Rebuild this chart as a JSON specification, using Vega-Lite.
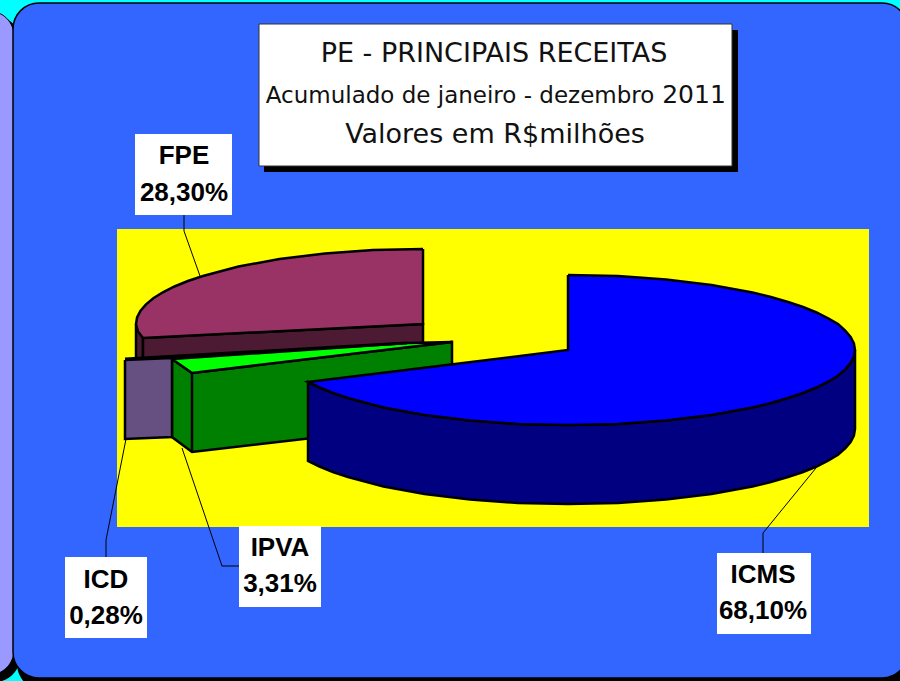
{"$schema":"https://vega.github.io/schema/vega-lite/v6.json","width":900,"height":681,"padding":0,"autosize":"none","background":"#00ffff","view":{"stroke":null},
"config":{"style":{"cell":{"stroke":null}}},
"datasets":{
"boxes":[
{"part":"sideShadow","x":-100,"x2":20,"y":16,"y2":682},
{"part":"side","x":-100,"x2":14,"y":11,"y2":675},
{"part":"mainShadow","x":17,"x2":912,"y":8,"y2":690},
{"part":"main","x":13,"x2":908,"y":3,"y2":678},
{"part":"titleShadow","x":264,"x2":738,"y":30,"y2":172},
{"part":"title","x":259,"x2":732,"y":24,"y2":166},
{"part":"plot","x":117,"x2":869,"y":229,"y2":527},
{"part":"label","x":135,"x2":232,"y":134,"y2":215},
{"part":"label","x":65,"x2":147,"y":557,"y2":638},
{"part":"label","x":239,"x2":321,"y":526,"y2":607},
{"part":"label","x":717,"x2":811,"y":553,"y2":634}
],
"outlines":[
{"part":"leaderFPE","i":0,"x":184,"y":215},{"part":"leaderFPE","i":1,"x":184,"y":231},{"part":"leaderFPE","i":2,"x":200,"y":276},
{"part":"leaderICD","i":0,"x":106,"y":557},{"part":"leaderICD","i":1,"x":106,"y":540},{"part":"leaderICD","i":2,"x":126,"y":439},
{"part":"leaderIPVA","i":0,"x":239,"y":566},{"part":"leaderIPVA","i":1,"x":222,"y":566},{"part":"leaderIPVA","i":2,"x":182,"y":448},
{"part":"leaderICMS","i":0,"x":763,"y":553},{"part":"leaderICMS","i":1,"x":763,"y":533},{"part":"leaderICMS","i":2,"x":816,"y":468},

{"part":"fpeSide","i":0,"x":136,"y":324},{"part":"fpeSide","i":1,"x":143,"y":338},{"part":"fpeSide","i":2,"x":143,"y":360},{"part":"fpeSide","i":3,"x":136,"y":360},{"part":"fpeSide","i":4,"x":136,"y":324},
{"part":"fpeWall","i":0,"x":143,"y":338},{"part":"fpeWall","i":1,"x":423,"y":324},{"part":"fpeWall","i":2,"x":423,"y":346},{"part":"fpeWall","i":3,"x":143,"y":360},{"part":"fpeWall","i":4,"x":143,"y":338},
{"part":"fpeTop","i":0,"x":423,"y":249},{"part":"fpeTop","i":1,"x":373,"y":250},{"part":"fpeTop","i":2,"x":325,"y":253.5},{"part":"fpeTop","i":3,"x":279.5,"y":259},{"part":"fpeTop","i":4,"x":238.5,"y":266.5},{"part":"fpeTop","i":5,"x":203,"y":276},{"part":"fpeTop","i":5.5,"x":187.9,"y":281},{"part":"fpeTop","i":6,"x":174.5,"y":286.5},{"part":"fpeTop","i":6.5,"x":162.9,"y":292.3},{"part":"fpeTop","i":7,"x":153.3,"y":298.3},{"part":"fpeTop","i":7.5,"x":145.8,"y":304.6},{"part":"fpeTop","i":8,"x":140.4,"y":311},{"part":"fpeTop","i":8.5,"x":137.1,"y":317.5},{"part":"fpeTop","i":9,"x":136,"y":324},{"part":"fpeTop","i":9.5,"x":138,"y":331.5},{"part":"fpeTop","i":10,"x":143,"y":338},{"part":"fpeTop","i":11,"x":423,"y":324},{"part":"fpeTop","i":12,"x":423,"y":249},

{"part":"ipvaTop","i":0,"x":172,"y":359},{"part":"ipvaTop","i":1,"x":407,"y":343},{"part":"ipvaTop","i":2,"x":452,"y":342},{"part":"ipvaTop","i":3,"x":192,"y":373},{"part":"ipvaTop","i":4,"x":172,"y":359},
{"part":"ipvaWall","i":0,"x":172,"y":359},{"part":"ipvaWall","i":1,"x":192,"y":373},{"part":"ipvaWall","i":2,"x":452,"y":342},{"part":"ipvaWall","i":3,"x":452,"y":422},{"part":"ipvaWall","i":4,"x":192,"y":452},{"part":"ipvaWall","i":5,"x":172,"y":437},{"part":"ipvaWall","i":6,"x":172,"y":359},
{"part":"ipvaEdge","i":0,"x":192,"y":373},{"part":"ipvaEdge","i":1,"x":192,"y":452},
{"part":"icd","i":0,"x":125,"y":360},{"part":"icd","i":1,"x":172,"y":358},{"part":"icd","i":2,"x":172,"y":437},{"part":"icd","i":3,"x":125,"y":439},{"part":"icd","i":4,"x":125,"y":360},
{"part":"backEdge","i":0,"x":125,"y":359},{"part":"backEdge","i":1,"x":407,"y":343},

{"part":"icmsWall","i":0,"x":855,"y":350},{"part":"icmsWall","i":0.5,"x":853.9,"y":356.5},{"part":"icmsWall","i":1,"x":850.6,"y":363},{"part":"icmsWall","i":1.5,"x":845.2,"y":369.4},{"part":"icmsWall","i":2,"x":838,"y":375.7},{"part":"icmsWall","i":2.5,"x":828.1,"y":381.7},{"part":"icmsWall","i":3,"x":816.5,"y":387.5},{"part":"icmsWall","i":3.5,"x":803.1,"y":393},{"part":"icmsWall","i":4,"x":788,"y":398},{"part":"icmsWall","i":4.5,"x":770.9,"y":403},{"part":"icmsWall","i":5,"x":752.5,"y":407.5},{"part":"icmsWall","i":6,"x":711.5,"y":415},{"part":"icmsWall","i":7,"x":666,"y":420.5},{"part":"icmsWall","i":8,"x":618,"y":424},{"part":"icmsWall","i":9,"x":568,"y":425},{"part":"icmsWall","i":10,"x":518,"y":424},{"part":"icmsWall","i":11,"x":470,"y":420.5},{"part":"icmsWall","i":12,"x":424.5,"y":415},{"part":"icmsWall","i":13,"x":383.5,"y":407.5},{"part":"icmsWall","i":14,"x":348,"y":398},{"part":"icmsWall","i":14.5,"x":332.9,"y":393},{"part":"icmsWall","i":15,"x":319.5,"y":387.5},{"part":"icmsWall","i":16,"x":308,"y":382},
{"part":"icmsWall","i":17,"x":308,"y":461},{"part":"icmsWall","i":18,"x":319.5,"y":466.5},{"part":"icmsWall","i":18.5,"x":332.9,"y":472},{"part":"icmsWall","i":19,"x":348,"y":477},{"part":"icmsWall","i":20,"x":383.5,"y":486.5},{"part":"icmsWall","i":21,"x":424.5,"y":494},{"part":"icmsWall","i":22,"x":470,"y":499.5},{"part":"icmsWall","i":23,"x":518,"y":503},{"part":"icmsWall","i":24,"x":568,"y":504},{"part":"icmsWall","i":25,"x":618,"y":503},{"part":"icmsWall","i":26,"x":666,"y":499.5},{"part":"icmsWall","i":27,"x":711.5,"y":494},{"part":"icmsWall","i":28,"x":752.5,"y":486.5},{"part":"icmsWall","i":28.5,"x":770.9,"y":482},{"part":"icmsWall","i":29,"x":788,"y":477},{"part":"icmsWall","i":29.5,"x":803.1,"y":472},{"part":"icmsWall","i":30,"x":816.5,"y":466.5},{"part":"icmsWall","i":30.5,"x":828.1,"y":460.7},{"part":"icmsWall","i":31,"x":838,"y":454.7},{"part":"icmsWall","i":31.5,"x":845.2,"y":448.4},{"part":"icmsWall","i":32,"x":850.6,"y":442},{"part":"icmsWall","i":32.5,"x":853.9,"y":435.5},{"part":"icmsWall","i":33,"x":855,"y":429},{"part":"icmsWall","i":34,"x":855,"y":350},

{"part":"icmsTop","i":0,"x":568,"y":275},{"part":"icmsTop","i":1,"x":618,"y":276},{"part":"icmsTop","i":2,"x":666,"y":279.5},{"part":"icmsTop","i":3,"x":711.5,"y":285},{"part":"icmsTop","i":4,"x":752.5,"y":292.5},{"part":"icmsTop","i":4.5,"x":770.9,"y":297},{"part":"icmsTop","i":5,"x":788,"y":302},{"part":"icmsTop","i":5.5,"x":803.1,"y":307},{"part":"icmsTop","i":6,"x":816.5,"y":312.5},{"part":"icmsTop","i":6.5,"x":828.1,"y":318.3},{"part":"icmsTop","i":7,"x":838,"y":324},{"part":"icmsTop","i":7.5,"x":845.2,"y":330.6},{"part":"icmsTop","i":8,"x":850.6,"y":337},{"part":"icmsTop","i":8.5,"x":853.9,"y":343.5},{"part":"icmsTop","i":9,"x":855,"y":350},{"part":"icmsTop","i":9.5,"x":853.9,"y":356.5},{"part":"icmsTop","i":10,"x":850.6,"y":363},{"part":"icmsTop","i":10.5,"x":845.2,"y":369.4},{"part":"icmsTop","i":11,"x":838,"y":375.7},{"part":"icmsTop","i":11.5,"x":828.1,"y":381.7},{"part":"icmsTop","i":12,"x":816.5,"y":387.5},{"part":"icmsTop","i":12.5,"x":803.1,"y":393},{"part":"icmsTop","i":13,"x":788,"y":398},{"part":"icmsTop","i":13.5,"x":770.9,"y":403},{"part":"icmsTop","i":14,"x":752.5,"y":407.5},{"part":"icmsTop","i":15,"x":711.5,"y":415},{"part":"icmsTop","i":16,"x":666,"y":420.5},{"part":"icmsTop","i":17,"x":618,"y":424},{"part":"icmsTop","i":18,"x":568,"y":425},{"part":"icmsTop","i":19,"x":518,"y":424},{"part":"icmsTop","i":20,"x":470,"y":420.5},{"part":"icmsTop","i":21,"x":424.5,"y":415},{"part":"icmsTop","i":22,"x":383.5,"y":407.5},{"part":"icmsTop","i":23,"x":348,"y":398},{"part":"icmsTop","i":23.5,"x":332.9,"y":393},{"part":"icmsTop","i":24,"x":319.5,"y":387.5},{"part":"icmsTop","i":25,"x":308,"y":382},{"part":"icmsTop","i":26,"x":568,"y":350},{"part":"icmsTop","i":27,"x":568,"y":275}
],
"titles":[
{"line":"PE - PRINCIPAIS RECEITAS","size":"a","x":494,"y":54},
{"line":"Acumulado de janeiro - dezembro","size":"b","x":460,"y":96},
{"line":"2011","size":"c","x":694,"y":95},
{"line":"Valores em R$milhões","size":"a","x":495,"y":135}
],
"labels":[
{"text":"FPE","x":184,"y":156},{"text":"28,30%","x":184,"y":193},
{"text":"ICD","x":106,"y":580},{"text":"0,28%","x":106,"y":616},
{"text":"IPVA","x":280,"y":548},{"text":"3,31%","x":280,"y":584},
{"text":"ICMS","x":763,"y":575},{"text":"68,10%","x":763,"y":611}
]},
"data":{"name":"boxes"},
"encoding":{"x":{"field":"x","type":"quantitative","scale":{"domain":[0,900],"nice":false,"zero":false},"axis":null},"y":{"field":"y","type":"quantitative","scale":{"domain":[681,0],"nice":false,"zero":false},"axis":null}},
"layer":[
{"transform":[{"filter":"datum.part==='sideShadow'"}],"mark":{"type":"rect","fill":"#000000","cornerRadius":25},"encoding":{"x2":{"field":"x2"},"y2":{"field":"y2"}}},
{"transform":[{"filter":"datum.part==='side'"}],"mark":{"type":"rect","fill":"#9999ff","stroke":"#000000","strokeWidth":1,"cornerRadius":25},"encoding":{"x2":{"field":"x2"},"y2":{"field":"y2"}}},
{"transform":[{"filter":"datum.part==='mainShadow'"}],"mark":{"type":"rect","fill":"#000000","cornerRadius":26},"encoding":{"x2":{"field":"x2"},"y2":{"field":"y2"}}},
{"transform":[{"filter":"datum.part==='main'"}],"mark":{"type":"rect","fill":"#3366ff","stroke":"#000000","strokeWidth":1.5,"cornerRadius":26},"encoding":{"x2":{"field":"x2"},"y2":{"field":"y2"}}},
{"transform":[{"filter":"datum.part==='titleShadow'"}],"mark":{"type":"rect","fill":"#000000"},"encoding":{"x2":{"field":"x2"},"y2":{"field":"y2"}}},
{"transform":[{"filter":"datum.part==='title'"}],"mark":{"type":"rect","fill":"#ffffff","stroke":"#333333","strokeWidth":1},"encoding":{"x2":{"field":"x2"},"y2":{"field":"y2"}}},
{"transform":[{"filter":"datum.part==='plot'"}],"mark":{"type":"rect","fill":"#ffff00"},"encoding":{"x2":{"field":"x2"},"y2":{"field":"y2"}}},
{"data":{"name":"outlines"},"transform":[{"filter":"indexof(datum.part,'leader')===0"}],"mark":{"type":"line","stroke":"#000000","strokeWidth":1},"encoding":{"detail":{"field":"part"},"order":{"field":"i"}}},
{"data":{"name":"outlines"},"transform":[{"filter":"datum.part==='fpeSide'"}],"mark":{"type":"line","fill":"#4d1a33","stroke":"#000000","strokeWidth":2.5},"encoding":{"order":{"field":"i"}}},
{"data":{"name":"outlines"},"transform":[{"filter":"datum.part==='fpeWall'"}],"mark":{"type":"line","fill":"#4d1a33","stroke":"#000000","strokeWidth":2.5},"encoding":{"order":{"field":"i"}}},
{"data":{"name":"outlines"},"transform":[{"filter":"datum.part==='fpeTop'"}],"mark":{"type":"line","fill":"#993366","stroke":"#000000","strokeWidth":2.5},"encoding":{"order":{"field":"i"}}},
{"data":{"name":"outlines"},"transform":[{"filter":"datum.part==='ipvaWall'"}],"mark":{"type":"line","fill":"#008000","stroke":"#000000","strokeWidth":2.5},"encoding":{"order":{"field":"i"}}},
{"data":{"name":"outlines"},"transform":[{"filter":"datum.part==='ipvaTop'"}],"mark":{"type":"line","fill":"#00ff00","stroke":"#000000","strokeWidth":2.5},"encoding":{"order":{"field":"i"}}},
{"data":{"name":"outlines"},"transform":[{"filter":"datum.part==='ipvaEdge'"}],"mark":{"type":"line","stroke":"#000000","strokeWidth":2.5},"encoding":{"order":{"field":"i"}}},
{"data":{"name":"outlines"},"transform":[{"filter":"datum.part==='icd'"}],"mark":{"type":"line","fill":"#665082","stroke":"#000000","strokeWidth":2.5},"encoding":{"order":{"field":"i"}}},
{"data":{"name":"outlines"},"transform":[{"filter":"datum.part==='backEdge'"}],"mark":{"type":"line","stroke":"#000000","strokeWidth":3},"encoding":{"order":{"field":"i"}}},
{"data":{"name":"outlines"},"transform":[{"filter":"datum.part==='icmsWall'"}],"mark":{"type":"line","fill":"#000080","stroke":"#000000","strokeWidth":2.5},"encoding":{"order":{"field":"i"}}},
{"data":{"name":"outlines"},"transform":[{"filter":"datum.part==='icmsTop'"}],"mark":{"type":"line","fill":"#0000ff","stroke":"#000000","strokeWidth":2.5},"encoding":{"order":{"field":"i"}}},
{"transform":[{"filter":"datum.part==='label'"}],"mark":{"type":"rect","fill":"#ffffff"},"encoding":{"x2":{"field":"x2"},"y2":{"field":"y2"}}},
{"data":{"name":"titles"},"transform":[{"filter":"datum.size==='a'"}],"mark":{"type":"text","font":"DejaVu Sans","fontSize":27,"align":"center","baseline":"middle","fill":"#111111"},"encoding":{"text":{"field":"line"}}},
{"data":{"name":"titles"},"transform":[{"filter":"datum.size==='b'"}],"mark":{"type":"text","font":"DejaVu Sans","fontSize":23,"align":"center","baseline":"middle","fill":"#111111"},"encoding":{"text":{"field":"line"}}},
{"data":{"name":"titles"},"transform":[{"filter":"datum.size==='c'"}],"mark":{"type":"text","font":"DejaVu Sans","fontSize":25,"align":"center","baseline":"middle","fill":"#111111"},"encoding":{"text":{"field":"line"}}},
{"data":{"name":"labels"},"mark":{"type":"text","font":"Liberation Sans","fontWeight":"bold","fontSize":26,"align":"center","baseline":"middle","fill":"#000000"},"encoding":{"text":{"field":"text"}}}
]}
